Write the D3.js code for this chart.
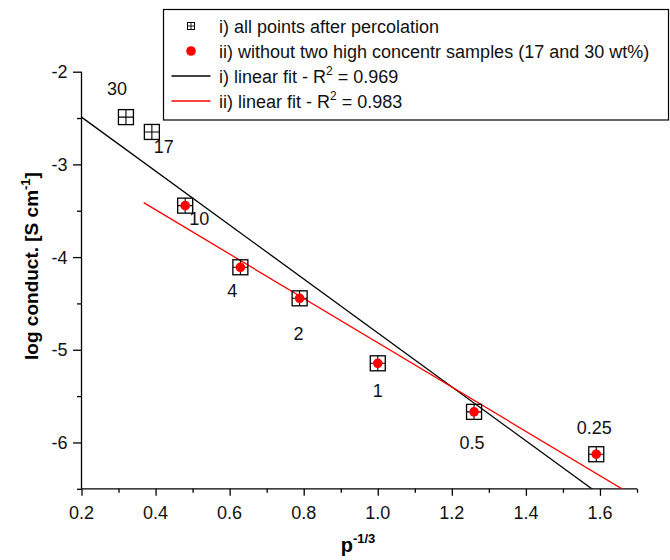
<!DOCTYPE html>
<html>
<head>
<meta charset="utf-8">
<script src="https://cdn.jsdelivr.net/npm/d3@7"></script>
<style>
  html, body { margin: 0; padding: 0; background: #fff; }
  svg { display: block; font-family: "Liberation Sans", Arial, sans-serif; }
</style>
</head>
<body>
<svg id="chart" width="670" height="560"></svg>
<script>
// Sample concentrations (wt%) used as point labels
const sampleLabels = ["30", "17", "10", "4", "2", "1", "0.5", "0.25"];
// p^(-1/3) for each sample
const pInvCube = [0.32, 0.39, 0.48, 0.629, 0.789, 1.0, 1.26, 1.59];
// log conductivity [S cm^-1]
const logConduct = [-2.49, -2.65, -3.445, -4.11, -4.445, -5.146, -5.67, -6.127];
// samples kept in the second series (the two high concentrations dropped)
const reducedSet = ["10", "4", "2", "1", "0.5", "0.25"];

// linear fits: [intercept, slope, start x]
const fitAll = [-1.908, -2.91, 0.2];
const fitReduced = [-2.533, -2.391, 0.368];

const xTicks = [0.2, 0.4, 0.6, 0.8, 1.0, 1.2, 1.4, 1.6];
const yTicks = [-2, -3, -4, -5, -6];

const svg = d3.select("#chart");
const plotLeft = 81.5, plotRight = 637, plotTop = 71.7, plotBottom = 488.8;
const fs = 18;

const x = d3.scaleLinear().domain([0.2, 1.7]).range([plotLeft, plotRight]);
const y = d3.scaleLinear().domain([-6.5, -2]).range([plotBottom, plotTop]);

svg.append("defs").append("clipPath").attr("id", "plotClip")
  .append("rect").attr("x", plotLeft).attr("y", 0)
  .attr("width", plotRight - plotLeft).attr("height", plotBottom);

// axes
const xAxisG = svg.append("g").attr("transform", `translate(0,${plotBottom})`);
xAxisG.call(d3.axisBottom(x).tickValues(d3.range(0.2, 1.71, 0.1)).tickSize(4).tickFormat(""));
xAxisG.call(g => g.selectAll(".tick").filter(d => xTicks.some(t => Math.abs(t - d) < 1e-6))
  .select("line").attr("y2", 7));
xAxisG.selectAll(".domain").attr("d", `M${plotLeft},0H${plotRight}`);
xAxisG.selectAll("path, line").attr("stroke", "#000").attr("stroke-width", 1.3);

svg.append("g").selectAll("text").data(xTicks).join("text")
  .attr("x", d => x(d)).attr("y", plotBottom + 30)
  .attr("text-anchor", "middle").attr("font-size", fs).attr("fill", "#111")
  .text(d => d.toFixed(1));

const yAxisG = svg.append("g").attr("transform", `translate(${plotLeft},0)`);
yAxisG.call(d3.axisLeft(y).tickValues(d3.range(-6.5, -1.99, 0.5)).tickSize(4.5).tickFormat(""));
yAxisG.call(g => g.selectAll(".tick").filter(d => yTicks.some(t => Math.abs(t - d) < 1e-6))
  .select("line").attr("x2", -8.5));
yAxisG.selectAll(".domain").attr("d", `M0,${plotTop}V${plotBottom}`);
yAxisG.selectAll("path, line").attr("stroke", "#000").attr("stroke-width", 1.3);

svg.append("g").selectAll("text").data(yTicks).join("text")
  .attr("x", plotLeft - 14).attr("y", d => y(d) + 6.5)
  .attr("text-anchor", "end").attr("font-size", fs).attr("fill", "#111")
  .text(d => d);

// axis titles
const yTitle = svg.append("text")
  .attr("transform", "translate(38,266) rotate(-90)")
  .attr("text-anchor", "middle").attr("font-size", 19).attr("font-weight", "bold");
yTitle.append("tspan").text("log conduct. [S cm");
yTitle.append("tspan").attr("dy", -8).attr("font-size", 13).text("-1");
yTitle.append("tspan").attr("dy", 8).text("]");

const xTitle = svg.append("text")
  .attr("x", 358).attr("y", 552)
  .attr("text-anchor", "middle").attr("font-size", 20).attr("font-weight", "bold");
xTitle.append("tspan").text("p");
xTitle.append("tspan").attr("dy", -9).attr("font-size", 13).text("-1/3");

// fit lines
const plot = svg.append("g").attr("clip-path", "url(#plotClip)");
const fitLine = (f, color) => {
  const [b, m, x0] = f;
  const xs = [x0, 1.7];
  plot.append("path")
    .attr("d", d3.line().x(d => x(d)).y(d => y(b + m * d))(xs))
    .attr("stroke", color).attr("stroke-width", 1.3).attr("fill", "none");
};
fitLine(fitAll, "#000");
fitLine(fitReduced, "#ff0000");

// data
const points = sampleLabels.map((s, i) => ({ s, px: pInvCube[i], py: logConduct[i] }));

// open squares with crosshair for all points
const half = 7.5;
const sq = svg.append("g").selectAll("g").data(points).join("g")
  .attr("transform", d => `translate(${x(d.px)},${y(d.py)})`);
sq.append("rect").attr("x", -half).attr("y", -half).attr("width", 2 * half).attr("height", 2 * half)
  .attr("fill", "none").attr("stroke", "#000").attr("stroke-width", 1.3);
sq.append("path").attr("d", `M${-half},0H${half}M0,${-half}V${half}`)
  .attr("stroke", "#000").attr("stroke-width", 1.1);

// red dots for the reduced set
svg.append("g").selectAll("circle").data(points.filter(d => reducedSet.includes(d.s))).join("circle")
  .attr("cx", d => x(d.px)).attr("cy", d => y(d.py)).attr("r", 4.8).attr("fill", "#ff0000");

// point labels, offset from each marker
const labelOffset = {
  "30": [-9, -29], "17": [12, 15], "10": [14, 13], "4": [-8, 23],
  "2": [-1, 35], "1": [0, 27], "0.5": [-2, 31], "0.25": [-2, -27]
};
svg.append("g").selectAll("text").data(points).join("text")
  .attr("x", d => x(d.px) + labelOffset[d.s][0])
  .attr("y", d => y(d.py) + labelOffset[d.s][1] + 6.5)
  .attr("text-anchor", "middle").attr("font-size", fs).attr("fill", "#111")
  .text(d => d.s);

// legend
const lg = svg.append("g");
lg.append("rect").attr("x", 163.5).attr("y", 9.5).attr("width", 505).attr("height", 110.5)
  .attr("fill", "#fff").attr("stroke", "#000").attr("stroke-width", 1.2);
const rows = [26, 51, 76, 101];
const symX = 191, textX = 219;
const ls = lg.append("g").attr("transform", `translate(${symX},${rows[0]})`);
ls.append("rect").attr("x", -3.5).attr("y", -3.5).attr("width", 7).attr("height", 7)
  .attr("fill", "none").attr("stroke", "#000").attr("stroke-width", 1);
ls.append("path").attr("d", "M-3.5,0H3.5M0,-3.5V3.5").attr("stroke", "#000").attr("stroke-width", 0.9);
lg.append("circle").attr("cx", symX).attr("cy", rows[1]).attr("r", 4.8).attr("fill", "#ff0000");
lg.append("line").attr("x1", 171.5).attr("x2", 210.5).attr("y1", rows[2]).attr("y2", rows[2])
  .attr("stroke", "#000").attr("stroke-width", 1.3);
lg.append("line").attr("x1", 171.5).attr("x2", 210.5).attr("y1", rows[3]).attr("y2", rows[3])
  .attr("stroke", "#ff0000").attr("stroke-width", 1.3);

const legendText = [
  ["i) all points after percolation"],
  ["ii) without two high concentr samples (17 and 30 wt%)"],
  ["i) linear fit - R", "2", " = 0.969"],
  ["ii) linear fit - R", "2", " = 0.983"]
];
legendText.forEach((parts, i) => {
  const t = lg.append("text").attr("x", textX).attr("y", rows[i] + 6.5)
    .attr("font-size", fs).attr("fill", "#111");
  t.append("tspan").text(parts[0]);
  if (parts.length > 1) {
    t.append("tspan").attr("dy", -8).attr("font-size", 12).text(parts[1]);
    t.append("tspan").attr("dy", 8).text(parts[2]);
  }
});
</script>
</body>
</html>
